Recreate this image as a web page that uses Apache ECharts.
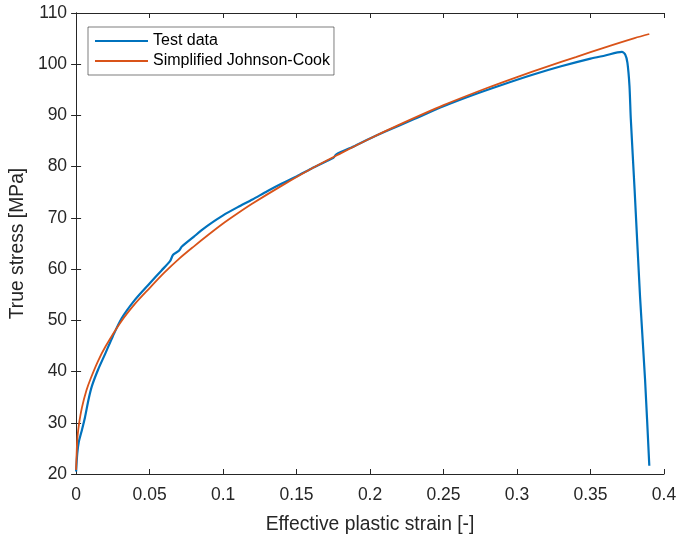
<!DOCTYPE html>
<html>
<head>
<meta charset="utf-8">
<script src="https://cdn.jsdelivr.net/npm/echarts@6/dist/echarts.min.js"></script>
<style>
html,body{margin:0;padding:0;background:#fff;}
#chart{width:680px;height:539px;}
</style>
</head>
<body>
<div id="chart"></div>
<script>
// Tick labels
var xTicks = [0, 0.05, 0.1, 0.15, 0.2, 0.25, 0.3, 0.35, 0.4];
var yTicks = [20, 30, 40, 50, 60, 70, 80, 90, 100, 110];

// Series names
var seriesNames = ['Test data', 'Simplified Johnson-Cook'];

// Test data
var testStrain = [0, 0.0008, 0.0018, 0.0036, 0.006, 0.0085, 0.0108, 0.015, 0.02, 0.025,
  0.031, 0.04, 0.05, 0.058, 0.064, 0.066, 0.070, 0.072, 0.08, 0.085,
  0.09, 0.1, 0.11, 0.12, 0.13, 0.14, 0.15, 0.16, 0.17, 0.175,
  0.177, 0.19, 0.2, 0.21, 0.23, 0.25, 0.27, 0.29, 0.31, 0.33,
  0.35, 0.36, 0.3713, 0.3736, 0.3751, 0.3765, 0.3774, 0.380, 0.3837, 0.3871, 0.390];
var testStress = [20.5, 24.0, 26.2, 28.2, 31.0, 34.6, 37.2, 40.4, 43.6, 46.9,
  50.4, 54.0, 57.2, 59.7, 61.6, 62.8, 63.6, 64.4, 66.3, 67.5,
  68.6, 70.5, 72.1, 73.6, 75.2, 76.7, 78.1, 79.6, 81.0, 81.7,
  82.4, 84.1, 85.5, 86.8, 89.3, 91.8, 94.0, 96.0, 97.9, 99.6,
  101.1, 101.7, 102.4, 101.9, 100.3, 95.8, 89.4, 75.5, 54.6, 38.5, 21.6];

// Simplified Johnson-Cook fit
var jcStrain = [0, 0.0005, 0.001, 0.002, 0.004, 0.007, 0.01, 0.015, 0.02, 0.03,
  0.04, 0.05, 0.06, 0.07, 0.08, 0.09, 0.1, 0.11, 0.12, 0.14, 0.16, 0.18, 0.2,
  0.22, 0.25, 0.28, 0.3, 0.32, 0.34, 0.36, 0.38, 0.39];
var jcStress = [20.8, 25.0, 27.4, 29.8, 33.0, 36.3, 38.7, 42.1, 44.9, 49.5,
  53.2, 56.3, 59.3, 62.0, 64.4, 66.7, 68.9, 70.9, 72.8, 76.3, 79.6, 82.6, 85.5,
  88.2, 92.0, 95.4, 97.5, 99.5, 101.4, 103.3, 105.1, 105.9];

function zip(a, b) { return a.map(function (v, i) { return [v, b[i]]; }); }

var axisColor = '#262626';
var fontFam = '"Liberation Sans", Arial, Helvetica, sans-serif';

var chart = echarts.init(document.getElementById('chart'), null, {renderer: 'canvas'});
var common = {
  axisLine: {show: true, lineStyle: {color: axisColor, width: 1}},
  axisTick: {show: true, inside: true, length: 5, lineStyle: {color: axisColor, width: 1}},
  splitLine: {show: false}
};
chart.setOption({
  animation: false,
  backgroundColor: '#fff',
  grid: {left: 74, right: 16, top: 13, bottom: 60},
  legend: {
    data: seriesNames,
    orient: 'vertical',
    left: 88, top: 27,
    padding: [6, 4, 6, 7],
    itemGap: 4,
    icon: 'rect',
    itemWidth: 53,
    itemHeight: 2,
    backgroundColor: '#fff',
    borderColor: axisColor,
    borderWidth: 0.6,
    borderRadius: 0,
    textStyle: {fontSize: 16, color: '#000', fontFamily: fontFam, lineHeight: 16}
  },
  xAxis: [
    Object.assign({
      type: 'value', position: 'bottom',
      min: xTicks[0], max: xTicks[xTicks.length - 1], interval: 0.05,
      name: 'Effective plastic strain [-]', nameLocation: 'middle', nameGap: 41,
      nameTextStyle: {fontSize: 19.3, color: axisColor, fontFamily: fontFam},
      axisLabel: {fontSize: 17.5, color: axisColor, margin: 12, fontFamily: fontFam,
        formatter: function (v) { var s = xTicks.find(function (t) { return Math.abs(t - v) < 1e-9; }); return s === undefined ? '' : String(s); }}
    }, common),
    Object.assign({
      type: 'value', position: 'top',
      min: xTicks[0], max: xTicks[xTicks.length - 1], interval: 0.05,
      axisLabel: {show: false}
    }, common)
  ],
  yAxis: [
    Object.assign({
      type: 'value', position: 'left',
      min: yTicks[0], max: yTicks[yTicks.length - 1], interval: 10,
      name: 'True stress [MPa]', nameLocation: 'middle', nameGap: 42,
      nameTextStyle: {fontSize: 19.3, color: axisColor, fontFamily: fontFam},
      axisLabel: {fontSize: 17.5, color: axisColor, margin: 9, fontFamily: fontFam}
    }, common),
    Object.assign({
      type: 'value', position: 'right',
      min: yTicks[0], max: yTicks[yTicks.length - 1], interval: 10,
      axisLabel: {show: false}
    }, common)
  ],
  series: [
    {
      name: seriesNames[0], type: 'line', xAxisIndex: 0, yAxisIndex: 0,
      data: zip(testStrain, testStress), symbol: 'none', smooth: 0.25,
      lineStyle: {color: '#0072BD', width: 2.2}, itemStyle: {color: '#0072BD'}
    },
    {
      name: seriesNames[1], type: 'line', xAxisIndex: 0, yAxisIndex: 0,
      data: zip(jcStrain, jcStress), symbol: 'none', smooth: 0.3,
      lineStyle: {color: '#D95319', width: 1.8}, itemStyle: {color: '#D95319'}
    }
  ]
});
</script>
</body>
</html>
